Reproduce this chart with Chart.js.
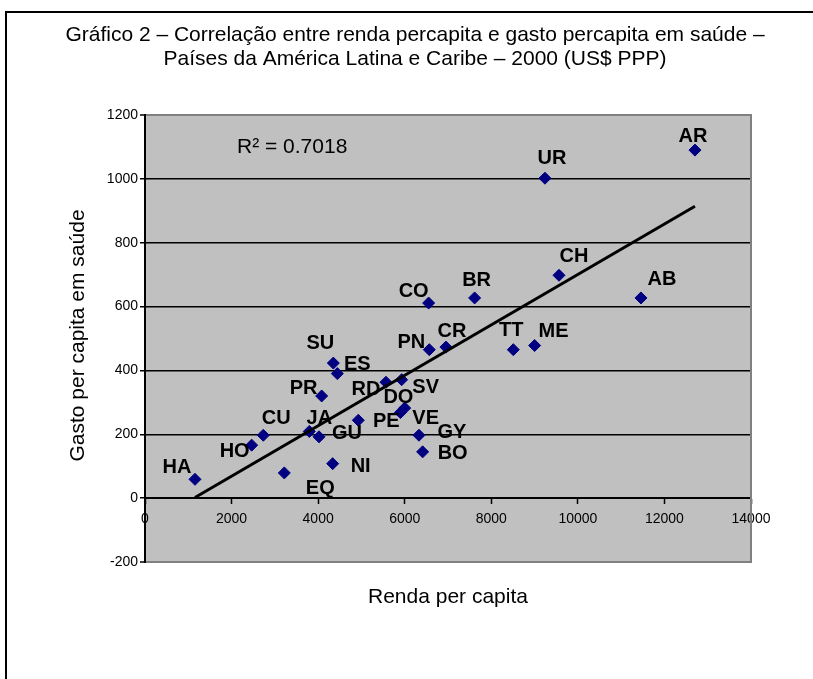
<!DOCTYPE html>
<html lang="pt">
<head>
<meta charset="utf-8">
<title>Gráfico 2</title>
<script src="https://cdn.jsdelivr.net/npm/chart.js@4.4.1/dist/chart.umd.min.js"></script>
<style>
  html, body { margin: 0; padding: 0; background: #fff; }
  #grafico { display: block; }
</style>
</head>
<body>
<canvas id="grafico" width="813" height="679"></canvas>
<script>
// dados (US$ PPP, 2000)
const paises = ['HA', 'HO', 'CU', 'JA', 'GU', 'EQ', 'NI', 'PR', 'SU', 'ES', 'PE', 'RD', 'SV', 'DO',
                'VE', 'GY', 'BO', 'PN', 'CR', 'CO', 'BR', 'TT', 'ME', 'CH', 'AB', 'UR', 'AR'];
const renda = [1155, 2464, 2733, 3796, 4020, 3218, 4335, 4081, 4351, 4443, 4928, 5567, 5929, 5900,
               6000, 6329, 6414, 6568, 6953, 6553, 7615, 8509, 9001, 9564, 11458, 9240, 12705];
const gasto = [59, 166, 197, 209, 192, 79, 108, 320, 423, 390, 244, 363, 371, 268,
               282, 197, 145, 465, 473, 611, 627, 465, 478, 698, 627, 1002, 1090];

// linha de tendência (extremos)
const tendenciaX = [1155, 12705];
const tendenciaY = [2, 914];
const r2 = '0.7018';

const xTicks = [0, 2000, 4000, 6000, 8000, 10000, 12000, 14000];
const yTicks = [-200, 0, 200, 400, 600, 800, 1000, 1200];

const titulo = ['Gráfico 2 – Correlação entre renda percapita e gasto percapita em saúde –',
                'Países da América Latina e Caribe – 2000 (US$ PPP)'];
const tituloX = 'Renda per capita';
const tituloY = 'Gasto per capita em saúde';

// deslocamento dos rótulos em relação ao marcador (px)
const rotuloDx = [-18, -17, 13, 10, 28, 36, 28, -18, -13, 20, 28, -20, 24, -2,
                  21, 33, 30, -18, 6, -15, 2, -2, 19, 15, 21, 7, -2];
const rotuloDy = [-12, 6, -17, -13, -3, 16, 3, -7, -20, -9, 1, 7, 8, -15,
                  10, -3, 2, -7, -16, -12, -17, -19, -14, -19, -18, -20, -14];

const FONTE = "'Liberation Sans', Arial, sans-serif";

const decoracao = {
  id: 'decoracao',
  beforeDraw(chart) {
    const {ctx, chartArea: a} = chart;
    ctx.save();
    ctx.strokeStyle = '#000';
    ctx.lineWidth = 2;
    ctx.beginPath();
    ctx.moveTo(6, chart.height + 5);
    ctx.lineTo(6, 12);
    ctx.lineTo(chart.width + 5, 12);
    ctx.stroke();
    ctx.fillStyle = '#c0c0c0';
    ctx.fillRect(a.left, a.top, a.right - a.left, a.bottom - a.top);
    ctx.restore();
  },
  beforeDatasetsDraw(chart) {
    const {ctx, chartArea: a} = chart;
    ctx.save();
    ctx.strokeStyle = '#808080';
    ctx.lineWidth = 2;
    ctx.beginPath();
    ctx.moveTo(a.right, a.top - 1);
    ctx.lineTo(a.right, a.bottom + 1);
    ctx.stroke();
    ctx.restore();
  },
  afterDatasetsDraw(chart) {
    const ctx = chart.ctx;
    const meta = chart.getDatasetMeta(1);
    ctx.save();
    ctx.fillStyle = '#000';
    ctx.font = 'bold 20px ' + FONTE;
    ctx.textAlign = 'center';
    ctx.textBaseline = 'middle';
    meta.data.forEach((pt, i) => {
      ctx.fillText(paises[i], pt.x + rotuloDx[i], pt.y + rotuloDy[i]);
    });
    ctx.restore();
  },
  afterDraw(chart) {
    const {ctx, chartArea: a} = chart;
    ctx.save();
    ctx.fillStyle = '#000';
    ctx.textBaseline = 'middle';
    ctx.textAlign = 'center';
    ctx.font = '21px ' + FONTE;
    ctx.fillText(titulo[0], 415, 35);
    ctx.fillText(titulo[1], 415, 59);
    ctx.fillText(tituloX, (a.left + a.right) / 2, a.bottom + 35);
    ctx.save();
    ctx.translate(78, (a.top + a.bottom) / 2 - 3);
    ctx.rotate(-Math.PI / 2);
    ctx.fillText(tituloY, 0, 0);
    ctx.restore();
    ctx.textAlign = 'left';
    ctx.fillText('R² = ' + r2, 237, 147);
    ctx.restore();
  }
};

new Chart(document.getElementById('grafico'), {
  type: 'scatter',
  data: {
    datasets: [
      {
        label: 'Tendência',
        data: tendenciaX.map((x, i) => ({x, y: tendenciaY[i]})),
        showLine: true,
        borderColor: '#000',
        borderWidth: 3,
        pointRadius: 0
      },
      {
        label: 'Países',
        data: renda.map((x, i) => ({x, y: gasto[i]})),
        pointStyle: 'rectRot',
        pointRadius: 6,
        backgroundColor: '#000080',
        borderColor: '#000080',
        borderWidth: 1
      }
    ]
  },
  options: {
    responsive: false,
    animation: false,
    events: [],
    layout: { padding: { left: 60, right: 62, top: 115, bottom: 117 } },
    plugins: { legend: { display: false }, tooltip: { enabled: false } },
    scales: {
      x: {
        type: 'linear',
        position: { y: 0 },
        min: xTicks[0],
        max: xTicks[xTicks.length - 1],
        ticks: {
          stepSize: xTicks[1] - xTicks[0],
          autoSkip: false,
          maxRotation: 0,
          color: '#000',
          padding: 8,
          font: { family: FONTE, size: 14 },
          callback: v => String(v)
        },
        grid: { drawOnChartArea: false, drawTicks: true, tickLength: 5, tickColor: '#000', tickWidth: 1.5 },
        border: { color: '#000', width: 2 }
      },
      y: {
        type: 'linear',
        position: 'left',
        min: yTicks[0],
        max: yTicks[yTicks.length - 1],
        afterFit(scale) { scale.width = 85; },
        ticks: {
          stepSize: yTicks[1] - yTicks[0],
          color: '#000',
          padding: 2,
          font: { family: FONTE, size: 14 },
          callback: v => String(v)
        },
        grid: {
          color: c => (c.tick && (c.tick.value === yTicks[0] || c.tick.value === yTicks[yTicks.length - 1])) ? '#808080' : '#000',
          lineWidth: c => (c.tick && (c.tick.value === yTicks[0] || c.tick.value === yTicks[yTicks.length - 1])) ? 2 : 1.5,
          tickColor: '#000',
          tickWidth: 1.5,
          tickLength: 5
        },
        border: { color: '#000', width: 2 }
      }
    }
  },
  plugins: [decoracao]
});
</script>
</body>
</html>
